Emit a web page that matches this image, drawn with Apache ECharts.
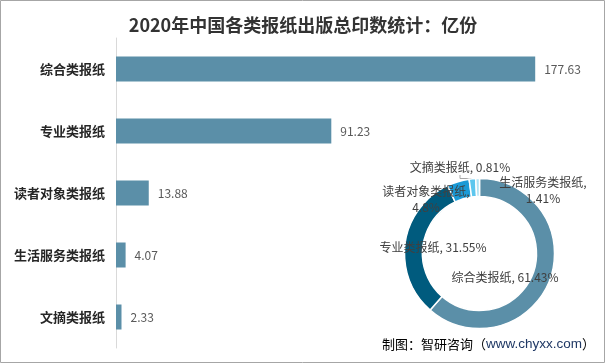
<!DOCTYPE html>
<html>
<head>
<meta charset="utf-8">
<script src="https://cdn.jsdelivr.net/npm/echarts@6/dist/echarts.min.js"></script>
<style>html,body{margin:0;padding:0;background:#fff;}#c{width:606px;height:364px;}</style>
</head>
<body>
<div id="c"></div>
<script>
var categories = ['综合类报纸', '专业类报纸', '读者对象类报纸', '生活服务类报纸', '文摘类报纸'];
var values = [177.63, 91.23, 13.88, 4.07, 2.33];
var titleText = '2020年中国各类报纸出版总印数统计：亿份';

var pieColors = ['#5b8fa8', '#005b7e', '#1b9ad6', '#5cc6ee', '#aee2f4'];
var labelPos = [[505, 277], [433, 247], [426, 199], [543, 190], [460, 167]];
var labelAlign = ['center', 'center', 'center', 'center', 'center'];
var pieLabelFmt = ['{b}, {d}%', '{b}, {d}%', '{b},\n{d}%', '{b},\n{d}%', '{b}, {d}%'];

var font = '"Noto Sans CJK SC", "Noto Sans", sans-serif';
var chart = echarts.init(document.getElementById('c'));

var pieData = categories.map(function (c, i) {
  var small = i >= 3;
  return {
    name: c,
    value: values[i],
    itemStyle: { color: pieColors[i] },
    label: { formatter: pieLabelFmt[i] },
    labelLine: { show: small, lineStyle: { color: '#a6a6a6', width: 1 }, length: 6, length2: 8 }
  };
});

chart.setOption({
  animation: false,
  title: {
    text: titleText,
    left: 'center',
    top: 11,
    textStyle: { fontFamily: font, fontSize: 18, fontWeight: 'bold', color: '#333' }
  },
  grid: { left: 116, top: 38, bottom: 16, width: 472 },
  xAxis: {
    type: 'value', min: 0, max: 200,
    show: false
  },
  yAxis: {
    type: 'category',
    data: categories,
    inverse: true,
    axisLine: { show: true, lineStyle: { color: '#d9d9d9', width: 1 } },
    axisTick: { show: false },
    axisLabel: { fontFamily: font, fontSize: 13, fontWeight: 'bold', color: '#262626', margin: 11 }
  },
  series: [
    {
      type: 'bar',
      data: values,
      barWidth: 25,
      itemStyle: { color: '#5b8fa8' },
      label: {
        show: true, position: 'right', distance: 9,
        fontFamily: font, fontSize: 12, color: '#595959'
      },
      z: 2
    },
    {
      type: 'pie',
      center: [479.5, 253.5],
      radius: [57, 75],
      startAngle: 90,
      clockwise: true,
      avoidLabelOverlap: false,
      itemStyle: { borderColor: '#fff', borderWidth: 1.5 },
      label: {
        show: true, position: 'outside',
        fontFamily: font, fontSize: 12, color: '#404040', lineHeight: 16, align: 'center'
      },
      labelLayout: function (p) {
        var i = p.dataIndex;
        return { x: labelPos[i][0], y: labelPos[i][1], align: labelAlign[i], verticalAlign: 'middle' };
      },
      data: pieData,
      z: 3
    }
  ],
  graphic: [
    {
      type: 'text',
      right: 11,
      top: 337,
      style: {
        text: '{a|制图：智研咨询（}{b|www.chyxx.com}{a|）}',
        rich: {
          a: { fontFamily: font, fontSize: 13, fill: '#000' },
          b: { fontFamily: 'Arial, "Liberation Sans", sans-serif', fontSize: 13.5, fill: '#1f3864' }
        }
      },
      z: 10
    },
    {
      type: 'rect',
      shape: { x: 0.5, y: 0.5, width: 604, height: 362 },
      style: { fill: null, stroke: '#a6a6a6', lineWidth: 1 },
      silent: true, z: 20
    }
  ]
});
</script>
</body>
</html>
